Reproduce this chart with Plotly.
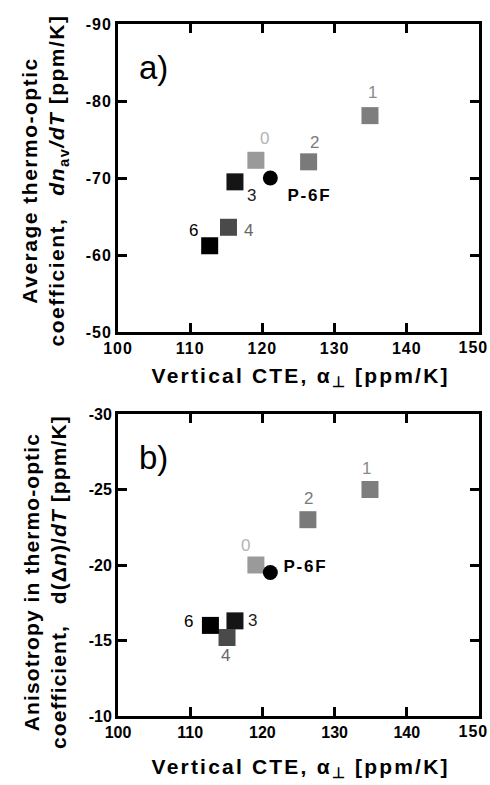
import plotly.graph_objects as go

# Polymer samples: vertical CTE vs. thermo-optic coefficients
samples = ["0", "1", "2", "3", "4", "6"]
cte_perp = [119.1, 134.9, 126.4, 116.2, 115.3, 112.7]
dn_av_dT = [-72.3, -78.1, -72.1, -69.5, -63.6, -61.2]
cte_perp_b = [119.1, 134.9, 126.3, 116.2, 115.1, 112.8]
d_delta_n_dT = [-20.0, -25.0, -23.0, -16.3, -15.2, -16.0]

ref_name = "P-6F"
ref_cte = [121.1]
ref_dn_av = [-70.0]
ref_d_delta_n = [-19.5]

# Tick positions and labels
x_ticks = [100, 110, 120, 130, 140, 150]
x_ticktext = ["100", "110", "120", "130", "140", "150"]
ya_ticks = [-90, -80, -70, -60, -50]
ya_ticktext = ["-90", "-80", "-70", "-60", "-50"]
yb_ticks = [-30, -25, -20, -15, -10]
yb_ticktext = ["-30", "-25", "-20", "-15", "-10"]

# Marker / label tones for each sample
marker_colors = ["#9a9a9a", "#7e7e7e", "#7a7a7a", "#151515", "#4a4a4a", "#000000"]
label_colors = ["#b4b4b4", "#8a8a8a", "#7a7a7a", "#222222", "#666666", "#000000"]

# Pixel offsets of the sample labels relative to their markers (dx right, dy up)
label_off_a = [(9, 22), (3, 23), (6, 19), (17, -14), (20, -3), (-16, 15)]
label_off_b = [(-10, 20), (-3, 21), (1, 21), (18, 0), (-2, -18), (-22, 4)]
ref_off_a = (39, -17)
ref_off_b = (35, 6)

W, H = 490, 785
x_dom = [118 / W, 479 / W]
ya_dom = [1 - 332 / H, 1 - 24 / H]
yb_dom = [1 - 716 / H, 1 - 414 / H]

fig = go.Figure()

for xs, ys, xa, ya in [(cte_perp, dn_av_dT, "x", "y"), (cte_perp_b, d_delta_n_dT, "x2", "y2")]:
    fig.add_trace(go.Scatter(
        x=xs, y=ys, mode="markers", xaxis=xa, yaxis=ya,
        marker=dict(symbol="square", size=17, color=marker_colors, line=dict(width=0)),
        showlegend=False, hoverinfo="skip"))

fig.add_trace(go.Scatter(x=ref_cte, y=ref_dn_av, mode="markers", xaxis="x", yaxis="y",
                         marker=dict(symbol="circle", size=15, color="black"),
                         showlegend=False, hoverinfo="skip"))
fig.add_trace(go.Scatter(x=ref_cte, y=ref_d_delta_n, mode="markers", xaxis="x2", yaxis="y2",
                         marker=dict(symbol="circle", size=15, color="black"),
                         showlegend=False, hoverinfo="skip"))

annotations = []
label_font = "Liberation Sans, Arial, sans-serif"
for xs, ys, offs, xr, yr in [(cte_perp, dn_av_dT, label_off_a, "x", "y"),
                              (cte_perp_b, d_delta_n_dT, label_off_b, "x2", "y2")]:
    for s, xv, yv, (dx, dy), c in zip(samples, xs, ys, offs, label_colors):
        annotations.append(dict(x=xv, y=yv, xref=xr, yref=yr, text=s, showarrow=False,
                                xshift=dx, yshift=dy, xanchor="center", yanchor="middle",
                                font=dict(family=label_font, size=17, color=c)))

for xv, yv, (dx, dy), xr, yr in [(ref_cte[0], ref_dn_av[0], ref_off_a, "x", "y"),
                                  (ref_cte[0], ref_d_delta_n[0], ref_off_b, "x2", "y2")]:
    annotations.append(dict(x=xv, y=yv, xref=xr, yref=yr, text=ref_name, showarrow=False,
                            xshift=dx, yshift=dy, xanchor="center", yanchor="middle",
                            font=dict(family=label_font, size=17, color="black", weight="bold")))

# Panel tags
for tag, yc in [("a)", 68), ("b)", 457)]:
    annotations.append(dict(x=153 / W, y=1 - yc / H, xref="paper", yref="paper",
                            text=tag, showarrow=False, xanchor="center", yanchor="middle",
                            font=dict(family=label_font, size=33, color="black")))

# Axis titles
title_font = dict(family=label_font, size=21, color="black", weight="bold")
xtitle = "Vertical CTE, α<sub>⊥</sub> [ppm/K]"
for yc in [377, 768]:
    annotations.append(dict(x=300 / W, y=1 - yc / H, xref="paper", yref="paper",
                            text=xtitle, showarrow=False, xanchor="center", yanchor="middle",
                            font=title_font))

ytitle_a = ("Average thermo-optic<br>"
            "coefficient,   <i>dn</i><sub>av</sub><i>/dT</i> [ppm/K]")
ytitle_b = ("Anisotropy in thermo-optic<br>"
            "coefficient,   d(Δ<i>n</i>)/<i>dT</i> [ppm/K]")
for t, yc in [(ytitle_a, 181), (ytitle_b, 582)]:
    annotations.append(dict(x=45 / W, y=1 - yc / H, xref="paper", yref="paper",
                            text=t, showarrow=False, textangle=-90,
                            xanchor="center", yanchor="middle", font=title_font))

tick_font = dict(family=label_font, size=16, color="black", weight="bold")

# The last x tick label sits flush against the right edge of the frame
for xr, yr in [("x", "y"), ("x2", "y2")]:
    annotations.append(dict(x=x_ticks[-1], y=0, xref=xr, yref=f"{yr} domain",
                            text=x_ticktext[-1], showarrow=False,
                            xanchor="right", yanchor="top", xshift=10, yshift=-5,
                            font=tick_font))

axis_common = dict(showline=True, linewidth=3, linecolor="black", mirror="ticks",
                   ticks="inside", ticklen=9, tickwidth=2.5, tickcolor="black",
                   showgrid=False, zeroline=False, automargin=False, tickfont=tick_font)

fig.update_layout(
    width=W, height=H,
    margin=dict(l=0, r=0, t=0, b=0, pad=0, autoexpand=False),
    paper_bgcolor="white", plot_bgcolor="white",
    xaxis=dict(domain=x_dom, anchor="y", range=[100, 150],
               tickvals=x_ticks[:-1], ticktext=x_ticktext[:-1], **axis_common),
    yaxis=dict(domain=ya_dom, anchor="x", range=[-50, -90],
               tickvals=ya_ticks, ticktext=ya_ticktext, **axis_common),
    xaxis2=dict(domain=x_dom, anchor="y2", range=[100, 150],
                tickvals=x_ticks[:-1], ticktext=x_ticktext[:-1], **axis_common),
    yaxis2=dict(domain=yb_dom, anchor="x2", range=[-10, -30],
                tickvals=yb_ticks, ticktext=yb_ticktext, **axis_common),
    annotations=annotations,
)

# Wider tracking for the bold titles and tick numbers
spacing_js = """
var gd = document.getElementById('{plot_id}');
gd.querySelectorAll('text.annotation-text').forEach(function (t) {
  var s = t.textContent;
  if (s.indexOf('Vertical') === 0) { t.style.letterSpacing = '2.2px'; }
  else if (s.indexOf('Average') === 0) { t.style.letterSpacing = '1.5px'; }
  else if (s.indexOf('Anisotropy') === 0) { t.style.letterSpacing = '1.1px'; }
  else if (s === 'P-6F') { t.style.letterSpacing = '1.8px'; }
  else if (/^1[0-9]0$/.test(s)) { t.style.letterSpacing = '1px'; }
});
gd.querySelectorAll('g.xtick text, g.ytick text').forEach(function (t) {
  t.style.letterSpacing = '1px';
});
"""

fig.write_html("out.html", post_script=spacing_js)
